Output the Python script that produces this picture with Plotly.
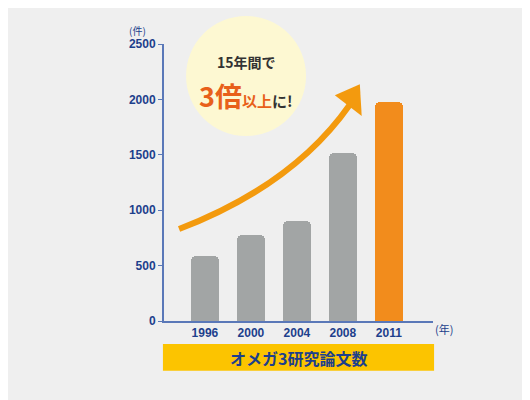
import plotly.graph_objects as go

years = ["1996", "2000", "2004", "2008", "2011"]
papers = [590, 780, 900, 1520, 1980]
bar_colors = ["#a2a5a5", "#a2a5a5", "#a2a5a5", "#a2a5a5", "#f28c1c"]
y_ticks = [0, 500, 1000, 1500, 2000, 2500]

NAVY = "#1d3f8c"
FONT = "Noto Sans CJK JP"

fig = go.Figure(go.Bar(
    x=list(range(len(years))), y=papers,
    marker=dict(color=bar_colors, cornerradius=5, line=dict(width=0)),
    width=0.6,
))

# Pfeil: gebogener Schaft + Spitze (paper-Koordinaten)
shapes = [
    dict(type="circle", xref="paper", yref="paper",
         x0=0.082, x1=0.528, y0=0.668, y1=1.101,
         fillcolor="#fdf8d2", line=dict(width=0), layer="below"),
    dict(type="path", xref="paper", yref="paper",
         path="M 0.056 0.332 Q 0.48 0.49 0.69 0.78",
         line=dict(color="#f39a0e", width=6)),
    dict(type="path", xref="paper", yref="paper",
         path="M 0.728 0.855 L 0.635 0.815 L 0.735 0.74 Z",
         fillcolor="#f39a0e", line=dict(width=0)),
    dict(type="rect", xref="paper", yref="paper",
         x0=-0.004, x1=1.004, y0=-0.18, y1=-0.083,
         fillcolor="#fcc400", line=dict(width=0)),
]

def note(x, y, text, size, color):
    return dict(xref="paper", yref="paper", x=x, y=y, xanchor="center", yanchor="middle",
                showarrow=False, text=text, font=dict(family=FONT, size=size, color=color))

annotations = [
    note(0.305, 0.935, "<b>15年間で</b>", 14, "#333"),
    note(0.305, 0.815,
         "<b><span style='font-size:27px;color:#e8601a'>3倍</span>"
         "<span style='font-size:15px;color:#e8601a'>以上</span>"
         "<span style='font-size:15px;color:#333'>に!</span></b>", 15, "#333"),
    note(0.5, -0.132, "<b>オメガ3研究論文数</b>", 16, NAVY),
    note(-0.1, 1.05, "(件)", 10, NAVY),
    note(1.04, -0.03, "(年)", 11, NAVY),
]

tick_font = dict(family="Liberation Sans", size=12, color=NAVY, weight="bold")

fig.update_layout(
    width=530, height=400,
    margin=dict(l=156, r=105, t=36, b=87),
    paper_bgcolor="#efefef", plot_bgcolor="#efefef",
    showlegend=False, bargap=0,
    shapes=shapes, annotations=annotations,
    xaxis=dict(range=[-0.89, 4.96], tickvals=list(range(len(years))), ticktext=years,
               showgrid=False, zeroline=False, showline=True, linecolor="#5a78b8",
               linewidth=2, ticks="", fixedrange=True, tickfont=tick_font),
    yaxis=dict(range=[0, 2500], tickvals=y_ticks, showgrid=False, zeroline=False,
               showline=True, linecolor="#5a78b8", linewidth=2,
               ticks="outside", ticklen=4, tickcolor="#5a78b8", tickfont=tick_font),
)

fig.write_html("out.html")
